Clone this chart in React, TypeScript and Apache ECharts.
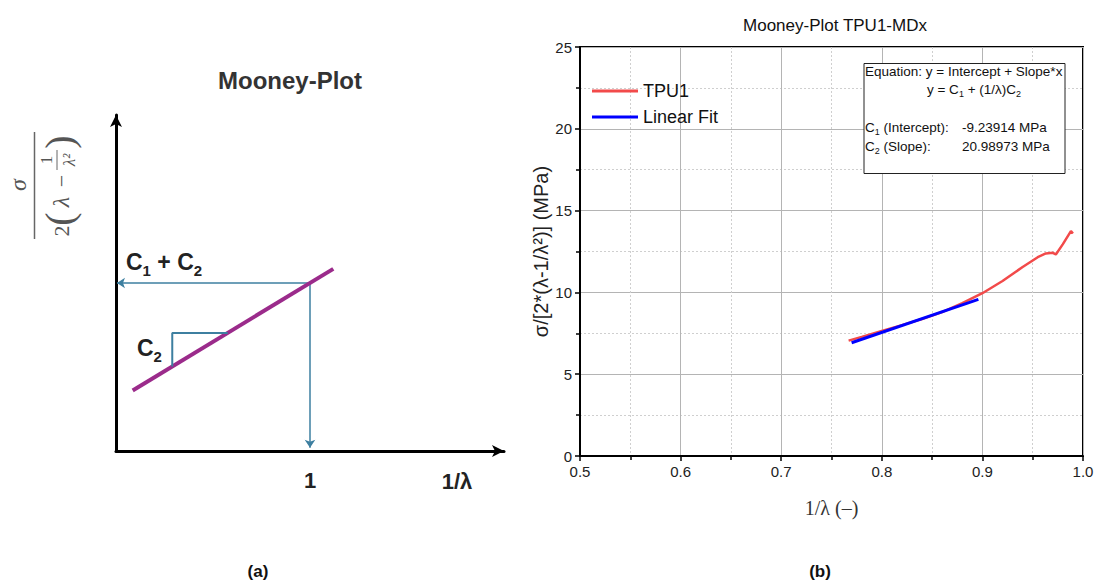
import React, { useEffect, useRef } from "react";
import * as echarts from "echarts";

// ---- Panel (b): measured data ----
const tpu1X = [0.767, 0.78, 0.8, 0.82, 0.84, 0.86, 0.88, 0.9, 0.92, 0.94, 0.955, 0.963, 0.97, 0.973, 0.98, 0.988, 0.99];
const tpu1Y = [7.05, 7.28, 7.65, 8.0, 8.37, 8.8, 9.35, 9.95, 10.7, 11.55, 12.15, 12.38, 12.42, 12.32, 12.95, 13.75, 13.6];
const fitX = [0.77, 0.896];
const fitY = [6.92, 9.57];
const xTicksB = [0.5, 1.0];
const yTicksB = [0, 25];

// ---- Panel (a): schematic ----
const schemLineX = [0.086, 1.12];
const schemLineY = [0.36, 1.084];
const slopeTriX = [0.29, 0.29, 0.576];
const slopeTriY = [0.503, 0.703, 0.703];
const arrowC1C2 = [[1, 1], [0.005, 1]];
const arrowOne = [[1, 1], [1, 0.02]];

const FONT = "'Liberation Sans', Arial, sans-serif";
const SERIF = "'Liberation Serif', 'DejaVu Serif', serif";
const TEAL = "#3d7fa0";
const PURPLE = "#9b2b8b";
const LEG_ICON = "path://M0,0 L46,0 L46,3 L0,3 Z";

export default function App() {
  const ref = useRef<HTMLDivElement>(null);
  useEffect(() => {
    document.body.style.margin = "0";
    const chart = echarts.init(ref.current!, null, { renderer: "svg" });
    const zip = (xs: number[], ys: number[]) => xs.map((x, i) => [x, ys[i]]);
    const gray = "#555";
    const subRich = (size: number, bold: boolean) => ({
      s: { fontSize: size, fontWeight: bold ? "bold" : "normal", fontFamily: FONT, fill: "#222", verticalAlign: "bottom", lineHeight: size * 2.2 },
    });
    const option: any = {
      animation: false,
      backgroundColor: "#fff",
      title: {
        text: "Mooney-Plot TPU1-MDx",
        left: 830,
        top: 12,
        textAlign: "center",
        textStyle: { fontFamily: FONT, fontSize: 17, fontWeight: "normal", color: "#111" },
      },
      legend: {
        orient: "vertical",
        left: 587,
        top: 76,
        itemWidth: 46,
        itemHeight: 3,
        itemGap: 6,
        icon: LEG_ICON,
        data: ["TPU1", "Linear Fit"],
        textStyle: { fontFamily: FONT, fontSize: 18, color: "#111", lineHeight: 20 },
      },
      grid: [
        { left: 116, top: 115, width: 388, height: 336, containLabel: false },
        { left: 580, top: 47, width: 503, height: 409, show: true, borderColor: "#000", borderWidth: 2, containLabel: false },
      ],
      xAxis: [
        {
          gridIndex: 0,
          type: "value",
          min: 0,
          max: 2,
          interval: 1,
          axisLine: { show: true, onZero: false, symbol: ["none", "arrow"], symbolSize: [9, 12], lineStyle: { color: "#000", width: 3 } },
          axisTick: { show: false },
          splitLine: { show: false },
          axisLabel: {
            margin: 18,
            formatter: (v: number) => (v === 1 ? "1" : ""),
            fontFamily: FONT,
            fontWeight: "bold",
            fontSize: 22,
            color: "#222",
          },
        },
        {
          gridIndex: 1,
          type: "value",
          min: xTicksB[0],
          max: xTicksB[1],
          interval: 0.1,
          axisLine: { show: true, onZero: false, lineStyle: { color: "#000", width: 2 } },
          axisTick: { show: true, inside: false, length: 5, lineStyle: { color: "#000", width: 1.5 } },
          minorTick: { show: true, splitNumber: 2, length: 4, lineStyle: { color: "#000", width: 1.5 } },
          splitLine: { show: true, lineStyle: { color: "#b4b4b4", width: 1 } },
          minorSplitLine: { show: true, lineStyle: { color: "#cfcfcf", width: 1, type: [2, 2] } },
          axisLabel: { margin: 8, fontFamily: FONT, fontSize: 15, color: "#222", formatter: (v: number) => v.toFixed(1) },
          name: "1/λ (–)",
          nameLocation: "middle",
          nameGap: 42,
          nameTextStyle: { fontFamily: SERIF, fontSize: 20, color: "#333" },
        },
      ],
      yAxis: [
        {
          gridIndex: 0,
          type: "value",
          min: 0,
          max: 2,
          axisLine: { show: true, onZero: false, symbol: ["none", "arrow"], symbolSize: [9, 12], lineStyle: { color: "#000", width: 3 } },
          axisTick: { show: false },
          splitLine: { show: false },
          axisLabel: { show: false },
        },
        {
          gridIndex: 1,
          type: "value",
          min: yTicksB[0],
          max: yTicksB[1],
          interval: 5,
          axisLine: { show: true, onZero: false, lineStyle: { color: "#000", width: 2 } },
          axisTick: { show: true, inside: false, length: 5, lineStyle: { color: "#000", width: 1.5 } },
          minorTick: { show: true, splitNumber: 2, length: 4, lineStyle: { color: "#000", width: 1.5 } },
          splitLine: { show: true, lineStyle: { color: "#b4b4b4", width: 1 } },
          minorSplitLine: { show: true, lineStyle: { color: "#cfcfcf", width: 1, type: [2, 2] } },
          axisLabel: { margin: 8, fontFamily: FONT, fontSize: 15, color: "#222" },
          name: "σ/[2*(λ-1/λ²)] (MPa)",
          nameLocation: "middle",
          nameGap: 27,
          nameTextStyle: { fontFamily: FONT, fontSize: 20, color: "#222" },
        },
      ],
      series: [
        {
          name: "schematic-fit",
          type: "line",
          xAxisIndex: 0,
          yAxisIndex: 0,
          data: zip(schemLineX, schemLineY),
          symbol: "none",
          lineStyle: { color: PURPLE, width: 4 },
          silent: true,
        },
        {
          name: "slope-triangle",
          type: "line",
          xAxisIndex: 0,
          yAxisIndex: 0,
          data: zip(slopeTriX, slopeTriY),
          symbol: "none",
          lineStyle: { color: TEAL, width: 2 },
          silent: true,
        },
        {
          name: "arrows",
          type: "lines",
          coordinateSystem: "cartesian2d",
          xAxisIndex: 0,
          yAxisIndex: 0,
          symbol: ["none", "arrow"],
          symbolSize: 8,
          lineStyle: { color: TEAL, width: 1.5, opacity: 1 },
          data: [{ coords: arrowC1C2 }, { coords: arrowOne }],
          silent: true,
        },
        {
          name: "TPU1",
          type: "line",
          xAxisIndex: 1,
          yAxisIndex: 1,
          data: zip(tpu1X, tpu1Y),
          symbol: "none",
          color: "#f24a4a",
          lineStyle: { color: "#f24a4a", width: 2.5 },
        },
        {
          name: "Linear Fit",
          type: "line",
          xAxisIndex: 1,
          yAxisIndex: 1,
          data: zip(fitX, fitY),
          symbol: "none",
          color: "#0000ff",
          lineStyle: { color: "#0000ff", width: 3 },
        },
      ],
      graphic: [
        // Panel (a) title and labels
        { type: "text", x: 290, y: 80, style: { text: "Mooney-Plot", font: `bold 24px ${FONT}`, fill: "#333", align: "center", verticalAlign: "middle" } },
        {
          type: "text",
          x: 126,
          y: 245,
          style: { text: "C{s|1} + C{s|2}", font: `bold 23px ${FONT}`, fill: "#222", rich: subRich(15, true) },
        },
        {
          type: "text",
          x: 137,
          y: 331,
          style: { text: "C{s|2}", font: `bold 23px ${FONT}`, fill: "#222", rich: subRich(15, true) },
        },
        { type: "text", x: 457, y: 481, style: { text: "1/λ", font: `bold 22px ${FONT}`, fill: "#222", align: "center", verticalAlign: "middle" } },
        // Panel (a) y-axis label: sigma / (2(λ - 1/λ²)), rotated
        { type: "text", x: 18, y: 185, rotation: Math.PI / 2, style: { text: "σ", font: `italic 24px ${SERIF}`, fill: gray, align: "center", verticalAlign: "middle" } },
        { type: "line", shape: { x1: 34.5, y1: 132, x2: 34.5, y2: 239 }, style: { stroke: "#666", lineWidth: 1.5 } },
        { type: "text", x: 61, y: 231, rotation: Math.PI / 2, style: { text: "2", font: `22px ${SERIF}`, fill: gray, align: "center", verticalAlign: "middle" } },
        { type: "text", x: 59, y: 219, rotation: Math.PI / 2, style: { text: "(", font: `40px ${SERIF}`, fill: gray, align: "center", verticalAlign: "middle" } },
        { type: "text", x: 61, y: 202, rotation: Math.PI / 2, style: { text: "λ", font: `italic 24px ${SERIF}`, fill: gray, align: "center", verticalAlign: "middle" } },
        { type: "text", x: 61, y: 181, rotation: Math.PI / 2, style: { text: "−", font: `22px ${SERIF}`, fill: gray, align: "center", verticalAlign: "middle" } },
        { type: "text", x: 46, y: 160, rotation: Math.PI / 2, style: { text: "1", font: `17px ${SERIF}`, fill: gray, align: "center", verticalAlign: "middle" } },
        { type: "line", shape: { x1: 57, y1: 150, x2: 57, y2: 170 }, style: { stroke: "#666", lineWidth: 1 } },
        { type: "text", x: 69, y: 160, rotation: Math.PI / 2, style: { text: "λ²", font: `italic 17px ${SERIF}`, fill: gray, align: "center", verticalAlign: "middle" } },
        { type: "text", x: 59, y: 142, rotation: Math.PI / 2, style: { text: ")", font: `40px ${SERIF}`, fill: gray, align: "center", verticalAlign: "middle" } },
        // Captions
        { type: "text", x: 258, y: 571, style: { text: "(a)", font: `bold 17px ${FONT}`, fill: "#111", align: "center", verticalAlign: "middle" } },
        { type: "text", x: 820, y: 571, style: { text: "(b)", font: `bold 17px ${FONT}`, fill: "#111", align: "center", verticalAlign: "middle" } },
        // Equation box
        { type: "rect", shape: { x: 864, y: 63.5, width: 201, height: 110 }, style: { fill: "#fff", stroke: "#222", lineWidth: 1 }, z: 10 },
        { type: "text", x: 865, y: 71, z: 11, style: { text: "Equation: y = Intercept + Slope*x", font: `13.5px ${FONT}`, fill: "#111", verticalAlign: "middle" } },
        {
          type: "text",
          x: 974,
          y: 89,
          z: 11,
          style: {
            text: "y = C{s|1} + (1/λ)C{s|2}",
            font: `13.5px ${FONT}`,
            fill: "#111",
            align: "center",
            verticalAlign: "middle",
            rich: { s: { fontSize: 9, fontFamily: FONT, fill: "#111", verticalAlign: "bottom", lineHeight: 18 } },
          },
        },
        {
          type: "text",
          x: 865,
          y: 127.5,
          z: 11,
          style: {
            text: "C{s|1} (Intercept):",
            font: `13.5px ${FONT}`,
            fill: "#111",
            verticalAlign: "middle",
            rich: { s: { fontSize: 9, fontFamily: FONT, fill: "#111", verticalAlign: "bottom", lineHeight: 18 } },
          },
        },
        { type: "text", x: 962, y: 127.5, z: 11, style: { text: "-9.23914 MPa", font: `13.5px ${FONT}`, fill: "#111", verticalAlign: "middle" } },
        {
          type: "text",
          x: 865,
          y: 146.5,
          z: 11,
          style: {
            text: "C{s|2} (Slope):",
            font: `13.5px ${FONT}`,
            fill: "#111",
            verticalAlign: "middle",
            rich: { s: { fontSize: 9, fontFamily: FONT, fill: "#111", verticalAlign: "bottom", lineHeight: 18 } },
          },
        },
        { type: "text", x: 962, y: 146.5, z: 11, style: { text: "20.98973 MPa", font: `13.5px ${FONT}`, fill: "#111", verticalAlign: "middle" } },
      ],
    };
    chart.setOption(option);
    return () => chart.dispose();
  }, []);
  return <div ref={ref} style={{ width: 1099, height: 582 }} />;
}
